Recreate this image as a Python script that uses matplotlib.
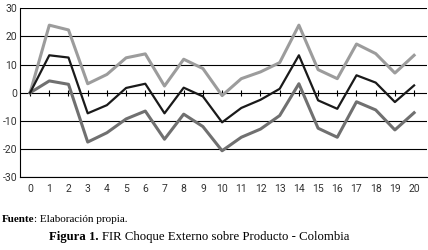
import matplotlib.pyplot as plt

periods = list(range(21))
upper = [0, 24, 22.3, 3.2, 6.5, 12.4, 13.8, 2.4, 11.9, 8.6, -1.0,
         5, 7.4, 10.7, 24, 8.2, 5, 17.3, 13.9, 7, 13.3]
irf = [0, 13.3, 12.5, -7.3, -4.4, 1.7, 3.2, -7.3, 1.8, -1.3, -10.5,
       -5.4, -2.5, 1.4, 13.3, -2.7, -5.7, 6.2, 3.6, -3.3, 2.6]
lower = [0, 4.2, 3, -17.5, -14.2, -9.3, -6.5, -16.5, -7.6, -12, -20.6,
         -15.8, -12.9, -8.1, 3.2, -12.6, -15.8, -3.2, -6.1, -13.2, -7.1]
yticks = [-30, -20, -10, 0, 10, 20, 30]
ylabels = ['-30', '-20', '-10', '0', '10', '20', '30']

plt.rcParams['font.family'] = ['Roboto', 'DejaVu Sans']

fig = plt.figure(figsize=(4.28, 2.5), dpi=100)
ax = fig.add_axes([0.047, 0.291, 0.951, 0.676])

for y in yticks:
    ax.axhline(y, color='black', lw=0.8, zorder=1)

ax.plot(periods, upper, color='#9c9c9c', lw=2.2, zorder=3)
ax.plot(periods, lower, color='#707070', lw=2.2, zorder=3)
ax.plot(periods, irf, color='#1a1a1a', lw=1.6, zorder=4)
# little ticks on the zero line
ax.vlines(periods, -1.1, 1.1, color='black', lw=0.8, zorder=2)

ax.set_xlim(-0.52, 20.68)
ax.set_ylim(-30, 30)
ax.set_xticks(periods)
ax.set_yticks(yticks)
ax.set_yticklabels(ylabels)
ax.tick_params(length=0, labelsize=7.5, colors='#333333')
ax.tick_params(axis='x', pad=5)
ax.tick_params(axis='y', pad=2)
for s in ['top', 'right']:
    ax.spines[s].set_visible(False)
ax.spines['left'].set_linewidth(0.8)
ax.spines['bottom'].set_linewidth(0.8)

serif = 'Liberation Serif'
t1 = fig.text(0.005, 0.12, 'Fuente', fontsize=8, family=serif,
              weight='bold', va='center')
fig.canvas.draw()
r = fig.canvas.get_renderer()
bb = t1.get_window_extent(r)
fig.text(bb.x1 / fig.bbox.width - 0.002, 0.12, ': Elaboración propia.',
         fontsize=8, family=serif, va='center')

t2 = fig.text(0.115, 0.052, 'Figura 1.', fontsize=9.2, family=serif,
              weight='bold', va='center')
bb = t2.get_window_extent(r)
fig.text(bb.x1 / fig.bbox.width + 0.008, 0.052,
         'FIR Choque Externo sobre Producto - Colombia',
         fontsize=9.2, family=serif, va='center')

fig.savefig('out.png', dpi=100)
